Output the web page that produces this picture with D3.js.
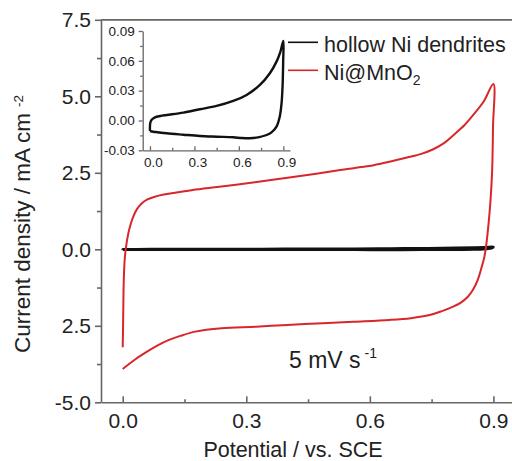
<!DOCTYPE html>
<html>
<head>
<meta charset="utf-8">
<script src="https://cdn.jsdelivr.net/npm/d3@7"></script>
<style>
  html, body { margin: 0; padding: 0; background: #fff; }
  svg { display: block; }
  text { font-family: "Liberation Sans", Arial, Helvetica, sans-serif; fill: #222; }
</style>
</head>
<body>
<script>
// ---- data -------------------------------------------------------------
// Ni@MnO2 cyclic voltammogram at 5 mV/s (potential in V vs. SCE, current in mA cm^-2)
const niMnO2Potential = [
  0.000, 0.001, 0.0024, 0.0045, 0.0073, 0.0136, 0.020, 0.0257, 0.035, 0.046,
  0.060, 0.078, 0.100, 0.127, 0.170, 0.224, 0.280, 0.321, 0.400, 0.470,
  0.528, 0.570, 0.609, 0.650, 0.690, 0.725, 0.754, 0.780, 0.803, 0.830,
  0.851, 0.876, 0.900,
  0.899, 0.897, 0.893, 0.888, 0.882, 0.878, 0.874, 0.862, 0.850, 0.838,
  0.820, 0.801, 0.775, 0.745, 0.700, 0.647, 0.560, 0.486, 0.400, 0.324,
  0.240, 0.176, 0.140, 0.111, 0.085, 0.062, 0.030, 0.000
];
const niMnO2Current = [
  -3.20, -2.40, -1.11, -0.40, 0.00, 0.52, 0.85, 1.07, 1.32, 1.50,
  1.63, 1.72, 1.79, 1.85, 1.94, 2.03, 2.12, 2.19, 2.34, 2.47,
  2.59, 2.67, 2.75, 2.87, 3.00, 3.12, 3.27, 3.47, 3.73, 4.06,
  4.39, 4.82, 5.40,
  4.00, 2.59, 1.60, 0.80, 0.08, -0.25, -0.46, -1.00, -1.33, -1.55,
  -1.75, -1.88, -2.02, -2.15, -2.25, -2.31, -2.37, -2.42, -2.47, -2.53,
  -2.58, -2.69, -2.83, -2.97, -3.14, -3.32, -3.60, -3.91
];

// hollow Ni dendrites cyclic voltammogram (same axes units)
const niDendPotential = [
  0.000, 0.000, 0.002, 0.010, 0.034, 0.070, 0.113, 0.225, 0.337, 0.450,
  0.562, 0.652, 0.742, 0.809, 0.854, 0.880, 0.900,
  0.899, 0.895, 0.888, 0.876, 0.854, 0.820, 0.787, 0.730, 0.674, 0.620,
  0.562, 0.450, 0.337, 0.225, 0.113, 0.050, 0.023, 0.000
];
const niDendCurrent = [
  -0.0105, -0.0060, -0.0025, 0.0005, 0.0032, 0.0045, 0.0055, 0.0079, 0.0113, 0.0146,
  0.0196, 0.0257, 0.0357, 0.0475, 0.0592, 0.0690, 0.0800,
  0.0600, 0.0350, 0.0173, 0.0040, -0.0062, -0.0120, -0.0146, -0.0170, -0.0179, -0.0177,
  -0.0169, -0.0163, -0.0156, -0.0143, -0.0129, -0.0118, -0.0113, -0.0106
];

const seriesNames = ["hollow Ni dendrites", "Ni@MnO"];
const seriesSub = ["", "2"];
const seriesColors = ["#111111", "#d8272b"];

// main axes ticks
const xMajor = [0, 0.3, 0.6, 0.9];
const xMajorLabels = ["0.0", "0.3", "0.6", "0.9"];
const xMinor = [0.15, 0.45, 0.75];
const yMajor = [7.5, 5, 2.5, 0, -2.5, -5];
const yMajorLabels = ["7.5", "5.0", "2.5", "0.0", "2.5", "-5.0"];
const yMinor = [6.25, 3.75, 1.25, -1.25, -3.75];

// inset ticks
const xiMajor = [0, 0.3, 0.6, 0.9];
const xiMajorLabels = ["0.0", "0.3", "0.6", "0.9"];
const xiMinor = [0.15, 0.45, 0.75];
const yiMajor = [-0.03, 0, 0.03, 0.06, 0.09];
const yiMajorLabels = ["-0.03", "0.00", "0.03", "0.06", "0.09"];
const yiMinor = [-0.015, 0.015, 0.045, 0.075];

const xTitle = "Potential / vs. SCE";
const yTitle = "Current density / mA cm";
const yTitleSup = "-2";
const rateText = "5 mV s";
const rateSup = "-1";

// ---- drawing ----------------------------------------------------------
const W = 512, H = 461;
const axisColor = "#666";

const svg = d3.select("body").append("svg")
  .attr("width", W).attr("height", H);

const x = d3.scaleLinear().domain([-0.0527, 0.950]).range([101, 514]);
const y = d3.scaleLinear().domain([-5, 7.5]).range([402.3, 19.8]);

const xi = d3.scaleLinear().domain([-0.049, 0.945]).range([142.7, 290]);
const yi = d3.scaleLinear().domain([-0.03, 0.09]).range([150.3, 31]);

function styleAxis(g, fontSize, width) {
  g.selectAll(".domain").attr("stroke", axisColor).attr("stroke-width", width);
  g.selectAll(".tick line").attr("stroke", axisColor).attr("stroke-width", width);
  g.selectAll(".tick text")
    .attr("fill", "#222")
    .style("font-family", '"Liberation Sans", Arial, sans-serif')
    .style("font-size", fontSize + "px");
}

// top frame line
svg.append("line")
  .attr("x1", x.range()[0]).attr("x2", W)
  .attr("y1", y(7.5)).attr("y2", y(7.5))
  .attr("stroke", axisColor).attr("stroke-width", 1.8);

// main x axis (ticks point inward)
const gx = svg.append("g").attr("transform", `translate(0,${y(-5)})`);
gx.call(d3.axisBottom(x).tickValues(xMajor).tickSize(-6).tickSizeOuter(0)
  .tickPadding(11).tickFormat((d, i) => xMajorLabels[i]));
styleAxis(gx, 21, 1.6);
const gxm = svg.append("g").attr("transform", `translate(0,${y(-5)})`);
gxm.call(d3.axisBottom(x).tickValues(xMinor).tickSize(-3).tickSizeOuter(0).tickFormat(""));
gxm.select(".domain").remove();
styleAxis(gxm, 21, 1.6);

// main y axis (ticks point outward)
const gy = svg.append("g").attr("transform", `translate(${x.range()[0]},0)`);
gy.call(d3.axisLeft(y).tickValues(yMajor).tickSize(6).tickSizeOuter(0)
  .tickPadding(4).tickFormat((d, i) => yMajorLabels[i]));
styleAxis(gy, 21, 1.6);
const gym = svg.append("g").attr("transform", `translate(${x.range()[0]},0)`);
gym.call(d3.axisLeft(y).tickValues(yMinor).tickSize(4).tickSizeOuter(0).tickFormat(""));
gym.select(".domain").remove();
styleAxis(gym, 21, 1.6);

// curves
const dendData = niDendPotential.map((p, i) => [p, niDendCurrent[i]]);
const mnData = niMnO2Potential.map((p, i) => [p, niMnO2Current[i]]);

const mainLine = d3.line().x(d => x(d[0])).y(d => y(d[1])).curve(d3.curveCatmullRom.alpha(0.5));
svg.append("path").datum(dendData).attr("d", mainLine)
  .attr("fill", "none").attr("stroke", seriesColors[0]).attr("stroke-width", 2.6)
  .attr("stroke-linejoin", "round");
svg.append("path").datum(mnData).attr("d", mainLine)
  .attr("fill", "none").attr("stroke", seriesColors[1]).attr("stroke-width", 2)
  .attr("stroke-linejoin", "round");

// legend
const legend = svg.append("g");
seriesNames.forEach((name, i) => {
  const ly = 42.3 + i * 28;
  legend.append("line")
    .attr("x1", 288).attr("x2", 318).attr("y1", ly).attr("y2", ly)
    .attr("stroke", seriesColors[i]).attr("stroke-width", 1.6);
  const t = legend.append("text")
    .attr("x", 324).attr("y", ly + 9.5)
    .style("font-size", "21.5px").text(name);
  if (seriesSub[i]) {
    t.append("tspan").attr("dy", 5).style("font-size", "14px").text(seriesSub[i]);
  }
});

// scan-rate annotation
const rate = svg.append("text").attr("x", 289).attr("y", 368)
  .style("font-size", "23px").text(rateText);
rate.append("tspan").attr("dx", 4).attr("dy", -10).style("font-size", "14px").text(rateSup);

// axis titles
svg.append("text")
  .attr("x", 293).attr("y", 457)
  .attr("text-anchor", "middle")
  .style("font-size", "21.5px").text(xTitle);

const yt = svg.append("text")
  .attr("transform", "translate(30,353) rotate(-90)")
  .attr("text-anchor", "start")
  .style("font-size", "22.5px").text(yTitle);
yt.append("tspan").attr("dx", 6).attr("dy", -7).style("font-size", "13.5px").text(yTitleSup);

// ---- inset ----------------------------------------------------------
const inset = svg.append("g");

const gix = inset.append("g").attr("transform", `translate(0,${yi(-0.03)})`);
gix.call(d3.axisBottom(xi).tickValues(xiMajor).tickSize(-4).tickSizeOuter(0)
  .tickPadding(7).tickFormat((d, i) => xiMajorLabels[i]));
styleAxis(gix, 13.5, 1.3);
gix.selectAll(".tick text").attr("dx", 3);
const gixm = inset.append("g").attr("transform", `translate(0,${yi(-0.03)})`);
gixm.call(d3.axisBottom(xi).tickValues(xiMinor).tickSize(-2.5).tickSizeOuter(0).tickFormat(""));
gixm.select(".domain").remove();
styleAxis(gixm, 13.5, 1.3);

const giy = inset.append("g").attr("transform", `translate(${xi.range()[0]},0)`);
giy.call(d3.axisLeft(yi).tickValues(yiMajor).tickSize(4).tickSizeOuter(0)
  .tickPadding(4).tickFormat((d, i) => yiMajorLabels[i]));
styleAxis(giy, 13.5, 1.3);
const giym = inset.append("g").attr("transform", `translate(${xi.range()[0]},0)`);
giym.call(d3.axisLeft(yi).tickValues(yiMinor).tickSize(2.5).tickSizeOuter(0).tickFormat(""));
giym.select(".domain").remove();
styleAxis(giym, 13.5, 1.3);

const insetLine = d3.line().x(d => xi(d[0])).y(d => yi(d[1])).curve(d3.curveCatmullRom.alpha(0.5));
inset.append("path").datum(dendData).attr("d", insetLine)
  .attr("fill", "none").attr("stroke", seriesColors[0]).attr("stroke-width", 2.4)
  .attr("stroke-linejoin", "round");
</script>
</body>
</html>
